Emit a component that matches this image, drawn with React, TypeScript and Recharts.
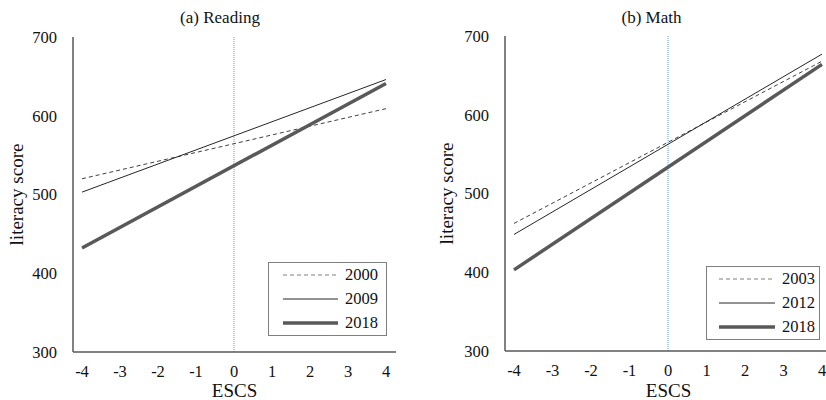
import { Line, LineChart, ReferenceLine, XAxis, YAxis } from "recharts";

// ESCS regression lines, PISA reading / math
const escs = [-4, 4];
const xTicks = [-4, -3, -2, -1, 0, 1, 2, 3, 4];
const yTicks = [300, 400, 500, 600, 700];

const readingYears = ["2000", "2009", "2018"];
const reading2000 = [520, 609];
const reading2009 = [503, 646];
const reading2018 = [432, 641];

const mathYears = ["2003", "2012", "2018"];
const math2003 = [462, 668];
const math2012 = [448, 677];
const math2018 = [403, 664];

const FONT = "Liberation Serif";
const TEXT = "#111";

type LineStyle = { color: string; width: number; dash?: string };
const lineStyles: LineStyle[] = [
  { color: "#404040", width: 1, dash: "4 3" },
  { color: "#262626", width: 1 },
  { color: "#595959", width: 3.5 },
];

type Row = { escs: number; [year: string]: number };

function buildRows(years: string[], series: number[][]): Row[] {
  return escs.map((x, i) => {
    const row: Row = { escs: x };
    years.forEach((y, j) => {
      row[y] = series[j][i];
    });
    return row;
  });
}

type LegendPos = { left: number; top: number; width: number; padLeft: number; lineWidth: number };

function LegendBox({ years, pos }: { years: string[]; pos: LegendPos }) {
  return (
    <div
      style={{
        position: "absolute",
        left: pos.left,
        top: pos.top,
        width: pos.width,
        height: 74,
        boxSizing: "border-box",
        border: "1px solid #7f7f7f",
        background: "#fff",
        fontFamily: FONT,
        fontSize: 16.5,
        color: TEXT,
      }}
    >
      {years.map((y, i) => {
        const s = lineStyles[i];
        return (
          <div key={y} style={{ display: "flex", alignItems: "center", height: 24, paddingLeft: pos.padLeft - 1 }}>
            <svg width={pos.lineWidth} height={8} style={{ display: "block" }}>
              <line
                x1={0}
                x2={pos.lineWidth}
                y1={4}
                y2={4}
                stroke={i === 0 ? "#7f7f7f" : s.color}
                strokeWidth={s.width}
                strokeDasharray={s.dash}
              />
            </svg>
            <span style={{ marginLeft: 7, lineHeight: "24px" }}>{y}</span>
          </div>
        );
      })}
    </div>
  );
}

type PanelProps = {
  left: number;
  width: number;
  plotLeft: number;
  plotRight: number;
  plotTop: number;
  plotBottom: number;
  yLabelX: number;
  title: string;
  titleX: number;
  years: string[];
  series: number[][];
  legend: LegendPos;
};

function Panel(p: PanelProps) {
  const data = buildRows(p.years, p.series);
  const tick = { fill: TEXT, fontSize: 16.5, fontFamily: FONT };
  return (
    <div style={{ position: "absolute", left: p.left, top: 0, width: p.width, height: 400 }}>
      <div
        style={{
          position: "absolute",
          left: p.titleX - 100,
          width: 200,
          top: 8.5,
          textAlign: "center",
          fontFamily: FONT,
          fontSize: 17,
          lineHeight: "17px",
          color: TEXT,
        }}
      >
        {p.title}
      </div>
      <LineChart
        width={p.width}
        height={400}
        data={data}
        margin={{ top: p.plotTop, right: p.width - p.plotRight, bottom: 0, left: 5 }}
        style={{ fontFamily: FONT }}
      >
        <XAxis
          dataKey="escs"
          type="number"
          domain={[-4, 4]}
          ticks={xTicks}
          padding={{ left: 9, right: 10 }}
          height={400 - p.plotBottom}
          tickLine={false}
          tickSize={0}
          tickMargin={13}
          tick={tick}
          axisLine={{ stroke: "#595959", strokeWidth: 1.5 }}
          label={{ value: "ESCS", position: "insideBottom", offset: 3, fill: TEXT, fontSize: 19, fontFamily: FONT }}
        />
        <XAxis
          xAxisId="top"
          orientation="top"
          type="number"
          domain={[-4, 4]}
          padding={{ left: 9, right: 10 }}
          height={0}
          tick={false}
          tickLine={false}
          axisLine={{ stroke: "#8c8c8c" }}
        />
        <YAxis
          type="number"
          domain={[300, 700]}
          ticks={yTicks}
          width={p.plotLeft - 5}
          tickLine={false}
          tickSize={0}
          tickMargin={16}
          tick={tick}
          axisLine={{ stroke: "#595959", strokeWidth: 1.5 }}
          label={{
            value: "literacy score",
            angle: -90,
            position: "insideLeft",
            offset: p.yLabelX - 5,
            fill: TEXT,
            fontSize: 19,
            fontFamily: FONT,
            style: { textAnchor: "middle" },
          }}
        />
        <YAxis
          yAxisId="right"
          orientation="right"
          type="number"
          domain={[300, 700]}
          width={0}
          tick={false}
          tickLine={false}
          axisLine={{ stroke: "#8c8c8c" }}
        />
        <ReferenceLine x={0} stroke="#5b9bd5" strokeDasharray="1 1" strokeWidth={1} />
        {p.years.map((y, i) => (
          <Line
            key={y}
            dataKey={y}
            type="linear"
            stroke={lineStyles[i].color}
            strokeWidth={lineStyles[i].width}
            strokeDasharray={lineStyles[i].dash}
            dot={false}
            activeDot={false}
            isAnimationActive={false}
          />
        ))}
      </LineChart>
      <LegendBox years={p.years} pos={p.legend} />
    </div>
  );
}

export default function App() {
  return (
    <div
      style={{
        position: "absolute",
        left: 0,
        top: 0,
        width: 826,
        height: 400,
        overflow: "hidden",
        background: "#fff",
      }}
    >
      <Panel
        left={0}
        width={413}
        plotLeft={73}
        plotRight={396}
        plotTop={37}
        plotBottom={352}
        yLabelX={16}
        title="(a) Reading"
        titleX={220}
        years={readingYears}
        series={[reading2000, reading2009, reading2018]}
        legend={{ left: 268, top: 262, width: 119, padLeft: 15, lineWidth: 55 }}
      />
      <Panel
        left={413}
        width={429}
        plotLeft={92}
        plotRight={419}
        plotTop={36}
        plotBottom={351}
        yLabelX={33}
        title="(b) Math"
        titleX={238.5}
        years={mathYears}
        series={[math2003, math2012, math2018]}
        legend={{ left: 293, top: 266, width: 114, padLeft: 13, lineWidth: 56 }}
      />
    </div>
  );
}
